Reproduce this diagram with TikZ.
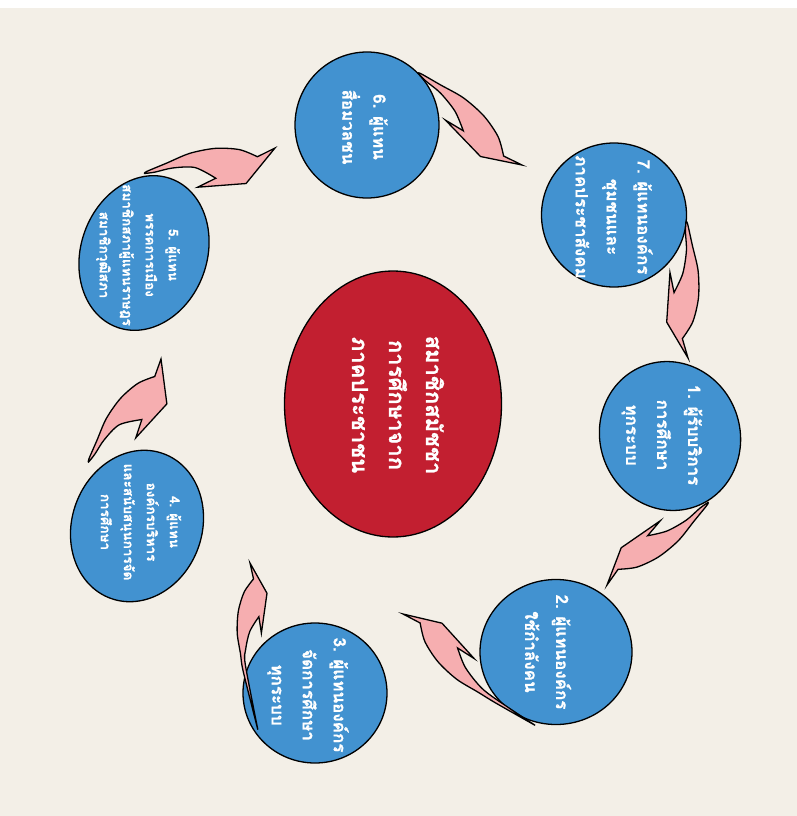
\documentclass[tikz,border=0pt]{standalone}
\usepackage{fontspec}
\newfontfamily\thaifont[Script=Thai,FakeBold=0.9]{Loma}
\usetikzlibrary{shapes.geometric}

\definecolor{paper}{HTML}{F3EFE7}
\definecolor{bubblefill}{HTML}{4292D0}
\definecolor{corefill}{HTML}{C21F30}
\definecolor{petalfill}{HTML}{F6AEB0}

\tikzset{
  bubble/.style={ellipse, draw=black, line width=1.3pt, fill=bubblefill, inner sep=0pt},
  bubbletext/.style={rotate=-90, align=center, text=white, inner sep=0pt,
    font=\thaifont\bfseries\fontsize{17}{31}\selectfont},
  smalltext/.style={bubbletext, font=\thaifont\bfseries\fontsize{13.5}{23}\selectfont},
  coretext/.style={bubbletext, font=\thaifont\bfseries\fontsize{22}{37}\selectfont},
  petal/.style={draw=black, line width=1.3pt, fill=petalfill}
}

% curved arrow: tail point, step to tip (dx,dy as on the page), end of tail, head width
\newcommand{\bendarrow}[5]{%
  \begin{scope}[shift={#1},x={(#2pt,0pt-(#3pt))},y={(#3pt,#2pt)}]
    \draw[petal] plot[smooth] coordinates {#4 (0,0.012) (0.16,0.045) (0.35,0.085) (0.55,0.085) (0.73,0.04) (0.855,-0.04)}
      -- (1,0) -- (0.73,-0.155*#5) -- (0.36,-0.125*#5)
      -- plot[smooth] coordinates {(0.51,-0.097*#5) (0.37,-0.03) (0.2,0) (0.06,-0.005) #4} -- cycle;
  \end{scope}}

\begin{document}
\begin{tikzpicture}[x=1pt,y=-1pt,line cap=round]
  \fill[paper] (0,0) rectangle (797,816);
  \fill[white] (0,0) rectangle (797,8);
  \useasboundingbox (0,0) rectangle (797,816);

  % centre
  \node[bubble, fill=corefill, minimum width=217pt, minimum height=266pt] (core) at (393,404) {};
  \node[coretext] (coreL) at (398,405) {สมาชิกสมัชชา\\การศึกษาจาก\\ภาคประชาชน};

  % the seven groups
  \node[bubble, minimum width=140pt, minimum height=150pt, rotate=20] (b1) at (670,436) {};
  \node[bubble, minimum width=152pt, minimum height=145pt] (b2) at (556,652) {};
  \node[bubble, minimum width=144pt, minimum height=140pt] (b3) at (315,693) {};
  \node[bubble, minimum width=130pt, minimum height=154pt, rotate=-20] (b4) at (137,526) {};
  \node[bubble, minimum width=126pt, minimum height=158pt, rotate=-20] (b5) at (144,253) {};
  \node[bubble, minimum width=144pt, minimum height=146pt] (b6) at (367,125) {};
  \node[bubble, minimum width=145pt, minimum height=144pt] (b7) at (614,215) {};

  \node[bubbletext] (t1) at (662,435) {1. ผู้รับบริการ\\การศึกษา\\ทุกระบบ};
  \node[bubbletext] (t2) at (548,652) {2. ผู้แทนองค์กร\\ใช้กำลังคน};
  \node[bubbletext] (t3) at (308,695) {3. ผู้แทนองค์กร\\จัดการศึกษา\\ทุกระบบ};
  \node[smalltext] (t4) at (141,522) {4. ผู้แทน\\องค์กรบริหาร\\และสนับสนุนการจัด\\การศึกษา};
  \node[smalltext] (t5) at (138,255) {5. ผู้แทน\\พรรคการเมือง\\สมาชิกสภาผู้แทนราษฎร\\สมาชิกวุฒิสภา};
  \node[bubbletext] (t6) at (365,127) {6. ผู้แทน\\สื่อมวลชน};
  \node[bubbletext] (t7) at (614,217) {7. ผู้แทนองค์กร\\ชุมชนและ\\ภาคประชาสังคม};

  % arrows round the cycle
  \bendarrow{(420,75)}{102}{90}{(-0.02,0)}{1}
  \bendarrow{(686,224)}{2}{134}{(-0.02,0)}{1}
  \bendarrow{(706,504)}{-99}{81}{(-0.02,0)}{1}
  \bendarrow{(497,702)}{-94}{-88}{(-0.34,-0.07)}{1}
  \bendarrow{(244.5,671.4)}{5.5}{-108.4}{(-0.53,-0.15)}{1.1}
  \bendarrow{(90,460)}{71}{-101}{(-0.02,0)}{1.6}
  \bendarrow{(147,173)}{128}{-25}{(-0.02,0)}{1.45}
\end{tikzpicture}
\end{document}
